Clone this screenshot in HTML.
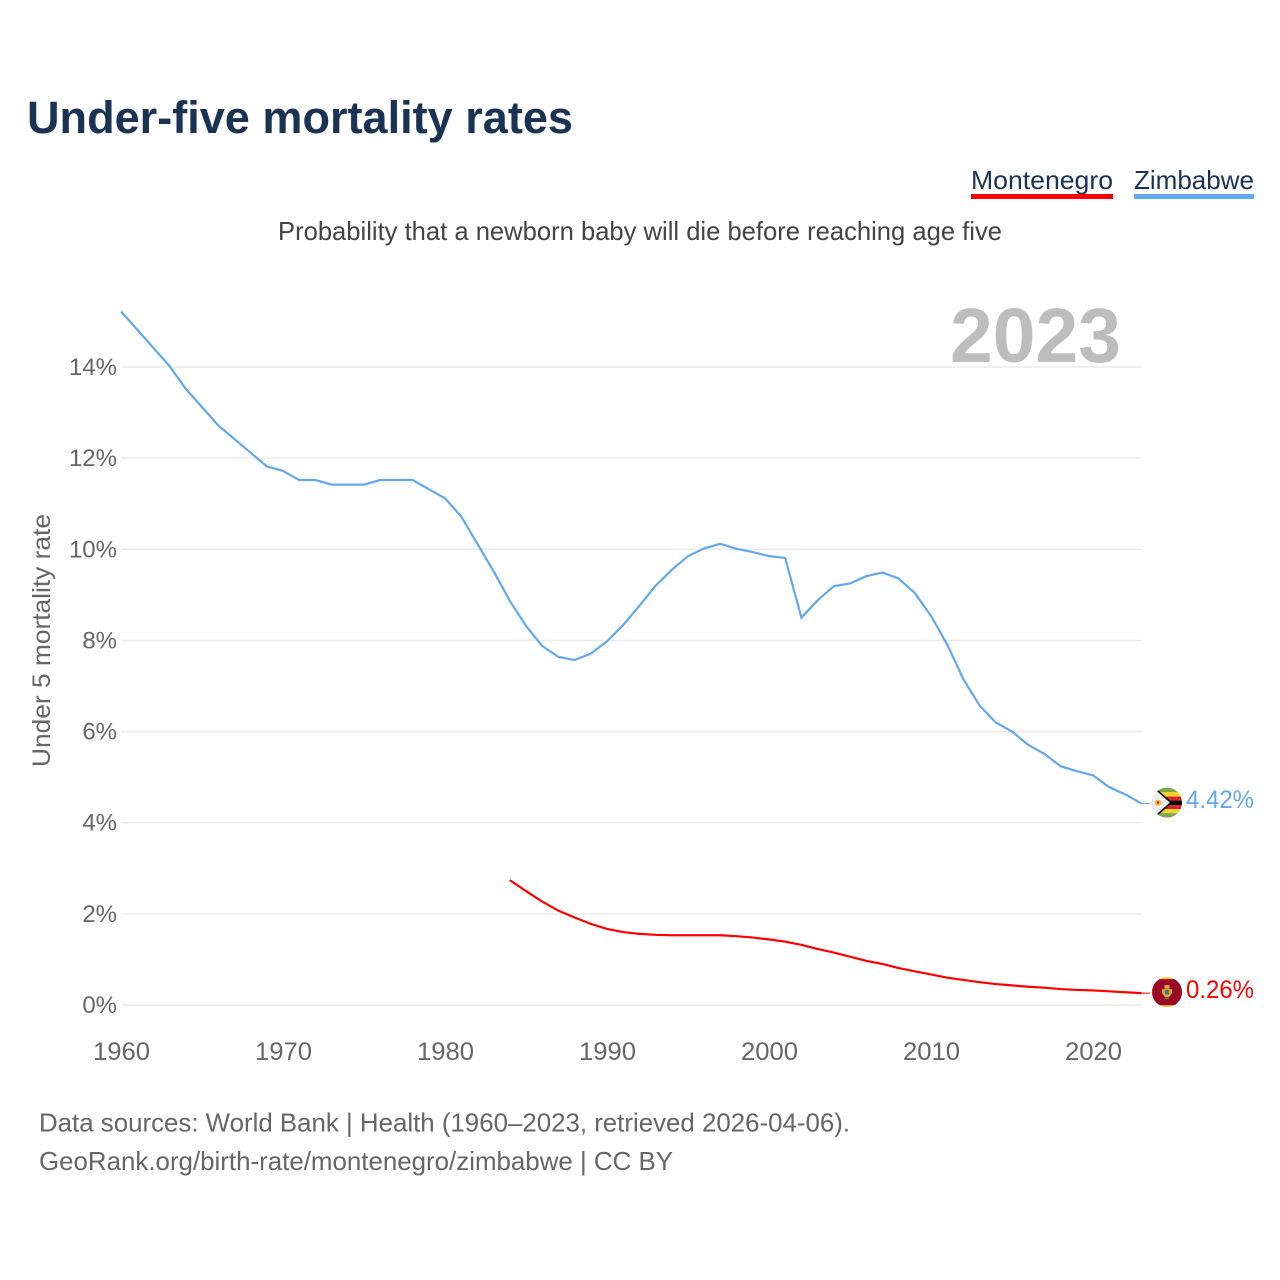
<!DOCTYPE html>
<html lang="en">
<head>
<meta charset="utf-8">
<title>Under-five mortality rates</title>
<style>
html,body{margin:0;padding:0;background:#fff}
svg{display:block}
text{font-family:"Liberation Sans",sans-serif}
</style>
</head>
<body>
<svg id="chart" xmlns="http://www.w3.org/2000/svg" width="1280" height="1280" viewBox="0 0 1280 1280">
  <rect width="1280" height="1280" fill="#fff"/>
  <text x="27" y="133" font-size="45" font-weight="700" fill="#1a3354" textLength="546" lengthAdjust="spacingAndGlyphs">Under-five mortality rates</text>
  <g>
    <text x="971" y="189" font-size="26" fill="#1a3354" textLength="142" lengthAdjust="spacingAndGlyphs">Montenegro</text>
    <rect x="971" y="194" width="142" height="5" fill="#ff0000"/>
  </g>
  <g>
    <text x="1134" y="189" font-size="26" fill="#1a3354" textLength="120" lengthAdjust="spacingAndGlyphs">Zimbabwe</text>
    <rect x="1134" y="194" width="120" height="5" fill="#62a8ec"/>
  </g>
  <text x="278" y="240" font-size="26" fill="#444" textLength="724" lengthAdjust="spacingAndGlyphs">Probability that a newborn baby will die before reaching age five</text>
  <g id="grid"></g>
  <g id="yticks"></g>
  <g id="xticks"></g>
  <text x="1121" y="362" text-anchor="end" font-size="77" font-weight="700" fill="#bdbdbd" textLength="171" lengthAdjust="spacingAndGlyphs">2023</text>
  <text transform="translate(50,767) rotate(-90)" font-size="25" fill="#666" textLength="253" lengthAdjust="spacingAndGlyphs">Under 5 mortality rate</text>
  <g id="series"></g>
  <defs>
    <clipPath id="flag-clip"><circle cx="0" cy="0" r="15"/></clipPath>
  </defs>
  <g id="flag-zw" clip-path="url(#flag-clip)">
    <rect x="-15" y="-15" width="30" height="30" fill="#fff"/>
    <rect x="-15" y="-15" width="30" height="5" fill="#78a94c"/>
    <rect x="-15" y="-10.5" width="30" height="4.5" fill="#f5d327"/>
    <rect x="-15" y="-6" width="30" height="4" fill="#d8232a"/>
    <rect x="-15" y="-2" width="30" height="4.5" fill="#000"/>
    <rect x="-15" y="2.5" width="30" height="4" fill="#d8232a"/>
    <rect x="-15" y="6.5" width="30" height="4" fill="#f5d327"/>
    <rect x="-15" y="10.5" width="30" height="4.5" fill="#78a94c"/>
    <path d="M-13,-15 L4,0 L-13,15 L-16,15 L-16,-15 Z" fill="#efefef"/>
    <path d="M-13,-15 L4,0 L-13,15" fill="none" stroke="#000" stroke-width="1.6"/>
    <circle cx="-9" cy="0" r="3" fill="#f5b32a"/>
    <circle cx="-9" cy="0" r="1.2" fill="#d8232a"/>
  </g>
  <g id="flag-me" clip-path="url(#flag-clip)">
    <rect x="-15" y="-15" width="30" height="30" fill="#f2c230"/>
    <rect x="-15" y="-13" width="30" height="26" fill="#9a0a26"/>
    <rect x="-2.5" y="-7" width="5" height="3.5" fill="#e0b43a"/>
    <path d="M-5,-3 L5,-3 L5,1 L2,5 L-2,5 L-5,1 Z" fill="#d9a92f"/>
    <rect x="-2" y="-2" width="4" height="4" fill="#2f6f9f"/>
    <rect x="-2" y="5.5" width="4" height="1.6" fill="#5b7f3a"/>
  </g>
  <text id="label-zw" x="1186" y="808" font-size="25" fill="#62a8ec" textLength="68" lengthAdjust="spacingAndGlyphs"></text>
  <text id="label-me" x="1186" y="998" font-size="25" fill="#ff0000" textLength="68" lengthAdjust="spacingAndGlyphs"></text>
  <text x="39" y="1131.5" font-size="26" fill="#666" textLength="811" lengthAdjust="spacingAndGlyphs">Data sources: World Bank | Health (1960–2023, retrieved 2026-04-06).</text>
  <text x="39" y="1170" font-size="26" fill="#666" textLength="634" lengthAdjust="spacingAndGlyphs">GeoRank.org/birth-rate/montenegro/zimbabwe | CC BY</text>
</svg>
<script>
const zimbabweStartYear = 1960;
const zimbabweValues = [15.22,14.82,14.42,14.02,13.52,13.12,12.72,12.42,12.12,11.82,11.72,11.52,11.52,11.42,11.42,11.42,11.52,11.52,11.52,11.32,11.12,10.72,10.12,9.52,8.87,8.32,7.88,7.64,7.57,7.71,7.98,8.34,8.76,9.2,9.55,9.85,10.02,10.12,10.01,9.94,9.85,9.81,8.5,8.88,9.19,9.25,9.41,9.49,9.36,9.04,8.54,7.91,7.15,6.57,6.2,6.0,5.71,5.51,5.24,5.13,5.04,4.78,4.62,4.42];
const montenegroStartYear = 1984;
const montenegroValues = [2.74,2.5,2.27,2.07,1.92,1.78,1.67,1.6,1.56,1.54,1.53,1.53,1.53,1.53,1.51,1.48,1.44,1.39,1.32,1.23,1.15,1.06,0.97,0.9,0.81,0.74,0.67,0.6,0.55,0.5,0.46,0.43,0.4,0.38,0.35,0.33,0.32,0.3,0.28,0.26];
const yTickValues = [0,2,4,6,8,10,12,14];
const xTickYears = [1960,1970,1980,1990,2000,2010,2020];

const NS = 'http://www.w3.org/2000/svg';
function xScale(year){ return 121 + (year - 1960) * 16.2; }
function yScale(v){ return 1005 - v * 45.57; }
function linePath(startYear, values){
  let d = '';
  values.forEach(function(v, i){
    d += (i ? 'L' : 'M') + xScale(startYear + i).toFixed(2) + ',' + yScale(v).toFixed(2);
  });
  return d;
}
const grid = document.getElementById('grid');
const yticks = document.getElementById('yticks');
const xticks = document.getElementById('xticks');
const series = document.getElementById('series');

yTickValues.forEach(function(v){
  const gl = document.createElementNS(NS, 'line');
  
  
  gl.setAttribute('x1', 121);
  gl.setAttribute('x2', 1142);
  gl.setAttribute('y1', yScale(v));
  gl.setAttribute('y2', yScale(v));
  gl.setAttribute('stroke', '#ebebeb');
  gl.setAttribute('stroke-width', 1.5);
  grid.appendChild(gl);
  const t = document.createElementNS(NS, 'text');
  
  
  t.setAttribute('x', 117);
  t.setAttribute('y', yScale(v) + 8);
  t.setAttribute('text-anchor', 'end');
  t.setAttribute('font-size', 24);
  t.setAttribute('fill', '#666');
  t.textContent = v + '%';
  yticks.appendChild(t);
});
xTickYears.forEach(function(yr){
  const t = document.createElementNS(NS, 'text');
  
  
  t.setAttribute('x', xScale(yr) + 0.5);
  t.setAttribute('y', 1060);
  t.setAttribute('text-anchor', 'middle');
  t.setAttribute('font-size', 25);
  t.setAttribute('fill', '#666');
  t.setAttribute('textLength', 57);
  t.setAttribute('lengthAdjust', 'spacingAndGlyphs');
  t.textContent = yr;
  xticks.appendChild(t);
});

const zwLine = document.createElementNS(NS, 'path');


zwLine.setAttribute('d', linePath(zimbabweStartYear, zimbabweValues));
zwLine.setAttribute('fill', 'none');
zwLine.setAttribute('stroke', '#62a8ec');
zwLine.setAttribute('stroke-width', 2.2);
series.appendChild(zwLine);

const meLine = document.createElementNS(NS, 'path');


meLine.setAttribute('d', linePath(montenegroStartYear, montenegroValues));
meLine.setAttribute('fill', 'none');
meLine.setAttribute('stroke', '#ff0000');
meLine.setAttribute('stroke-width', 2.2);
series.appendChild(meLine);

const zwLast = zimbabweValues[zimbabweValues.length - 1];
const meLast = montenegroValues[montenegroValues.length - 1];

const zwTail = document.createElementNS(NS, 'line');


zwTail.setAttribute('x1', xScale(2023));
zwTail.setAttribute('x2', 1150);
zwTail.setAttribute('y1', yScale(zwLast));
zwTail.setAttribute('y2', yScale(zwLast));
zwTail.setAttribute('stroke', '#62a8ec');
zwTail.setAttribute('stroke-width', 1);
series.appendChild(zwTail);

const meTail = document.createElementNS(NS, 'line');


meTail.setAttribute('x1', xScale(2023));
meTail.setAttribute('x2', 1150);
meTail.setAttribute('y1', yScale(meLast));
meTail.setAttribute('y2', yScale(meLast));
meTail.setAttribute('stroke', '#ff0000');
meTail.setAttribute('stroke-width', 1);
series.appendChild(meTail);

document.getElementById('flag-zw').setAttribute('transform', 'translate(1167,' + (yScale(zwLast) - 1) + ')');
document.getElementById('flag-me').setAttribute('transform', 'translate(1167,' + (yScale(meLast) - 1) + ')');
document.getElementById('label-zw').textContent = zwLast.toFixed(2) + '%';
document.getElementById('label-me').textContent = meLast.toFixed(2) + '%';
</script>
</body>
</html>
